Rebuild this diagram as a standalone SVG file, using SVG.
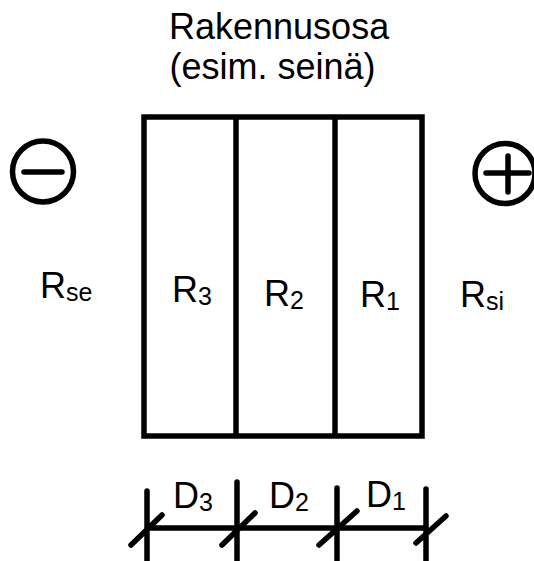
<svg xmlns="http://www.w3.org/2000/svg" width="534" height="561" viewBox="0 0 534 561">
<style>
.l{fill:none;stroke:#000;stroke-width:5.500;stroke-linecap:round}
.w{fill:none;stroke:#000;stroke-width:5.500}
.t{font-family:"Liberation Sans",Arial,sans-serif;font-size:36px;fill:#000}
.s{font-size:25px}
</style>
<rect width="534" height="561" fill="#fff"/>
<g id="title"><text class="t" x="169" y="39">Rakennusosa</text><text class="t" x="169.500" y="79">(esim. seinä)</text></g>
<g id="wall"><rect class="w" x="144" y="117" width="278" height="319"/><path class="w" d="M236 117V436M335 117V436"/></g>
<g id="minus"><circle class="l" cx="43" cy="171.500" r="30.500"/><path class="l" d="M24 172H62"/></g>
<g id="plus"><circle class="l" cx="505" cy="173.500" r="30"/><path class="l" d="M486 173H529M508 156V192"/></g>
<g id="rse"><text class="t" x="40" y="298">R<tspan class="s" dy="3">se</tspan></text></g>
<g id="r3"><text class="t" x="172" y="302">R<tspan class="s" dy="3">3</tspan></text></g>
<g id="r2"><text class="t" x="264" y="306">R<tspan class="s" dy="3">2</tspan></text></g>
<g id="r1"><text class="t" x="360" y="307">R<tspan class="s" dy="3">1</tspan></text></g>
<g id="rsi"><text class="t" x="460" y="307">R<tspan class="s" dy="3">si</tspan></text></g>
<g id="d3"><text class="t" x="173" y="508">D<tspan class="s" dy="3">3</tspan></text></g>
<g id="d2"><text class="t" x="269" y="508">D<tspan class="s" dy="3">2</tspan></text></g>
<g id="d1"><text class="t" x="366" y="507">D<tspan class="s" dy="3">1</tspan></text></g>
<g id="connectors"><path class="l" d="M147 528H426M147 491V563M237 482V563M337 488V563M426 489V563M131 545L162 515M222 545L255 513M319 545L357 511M416 543L446 516"/></g>
</svg>
